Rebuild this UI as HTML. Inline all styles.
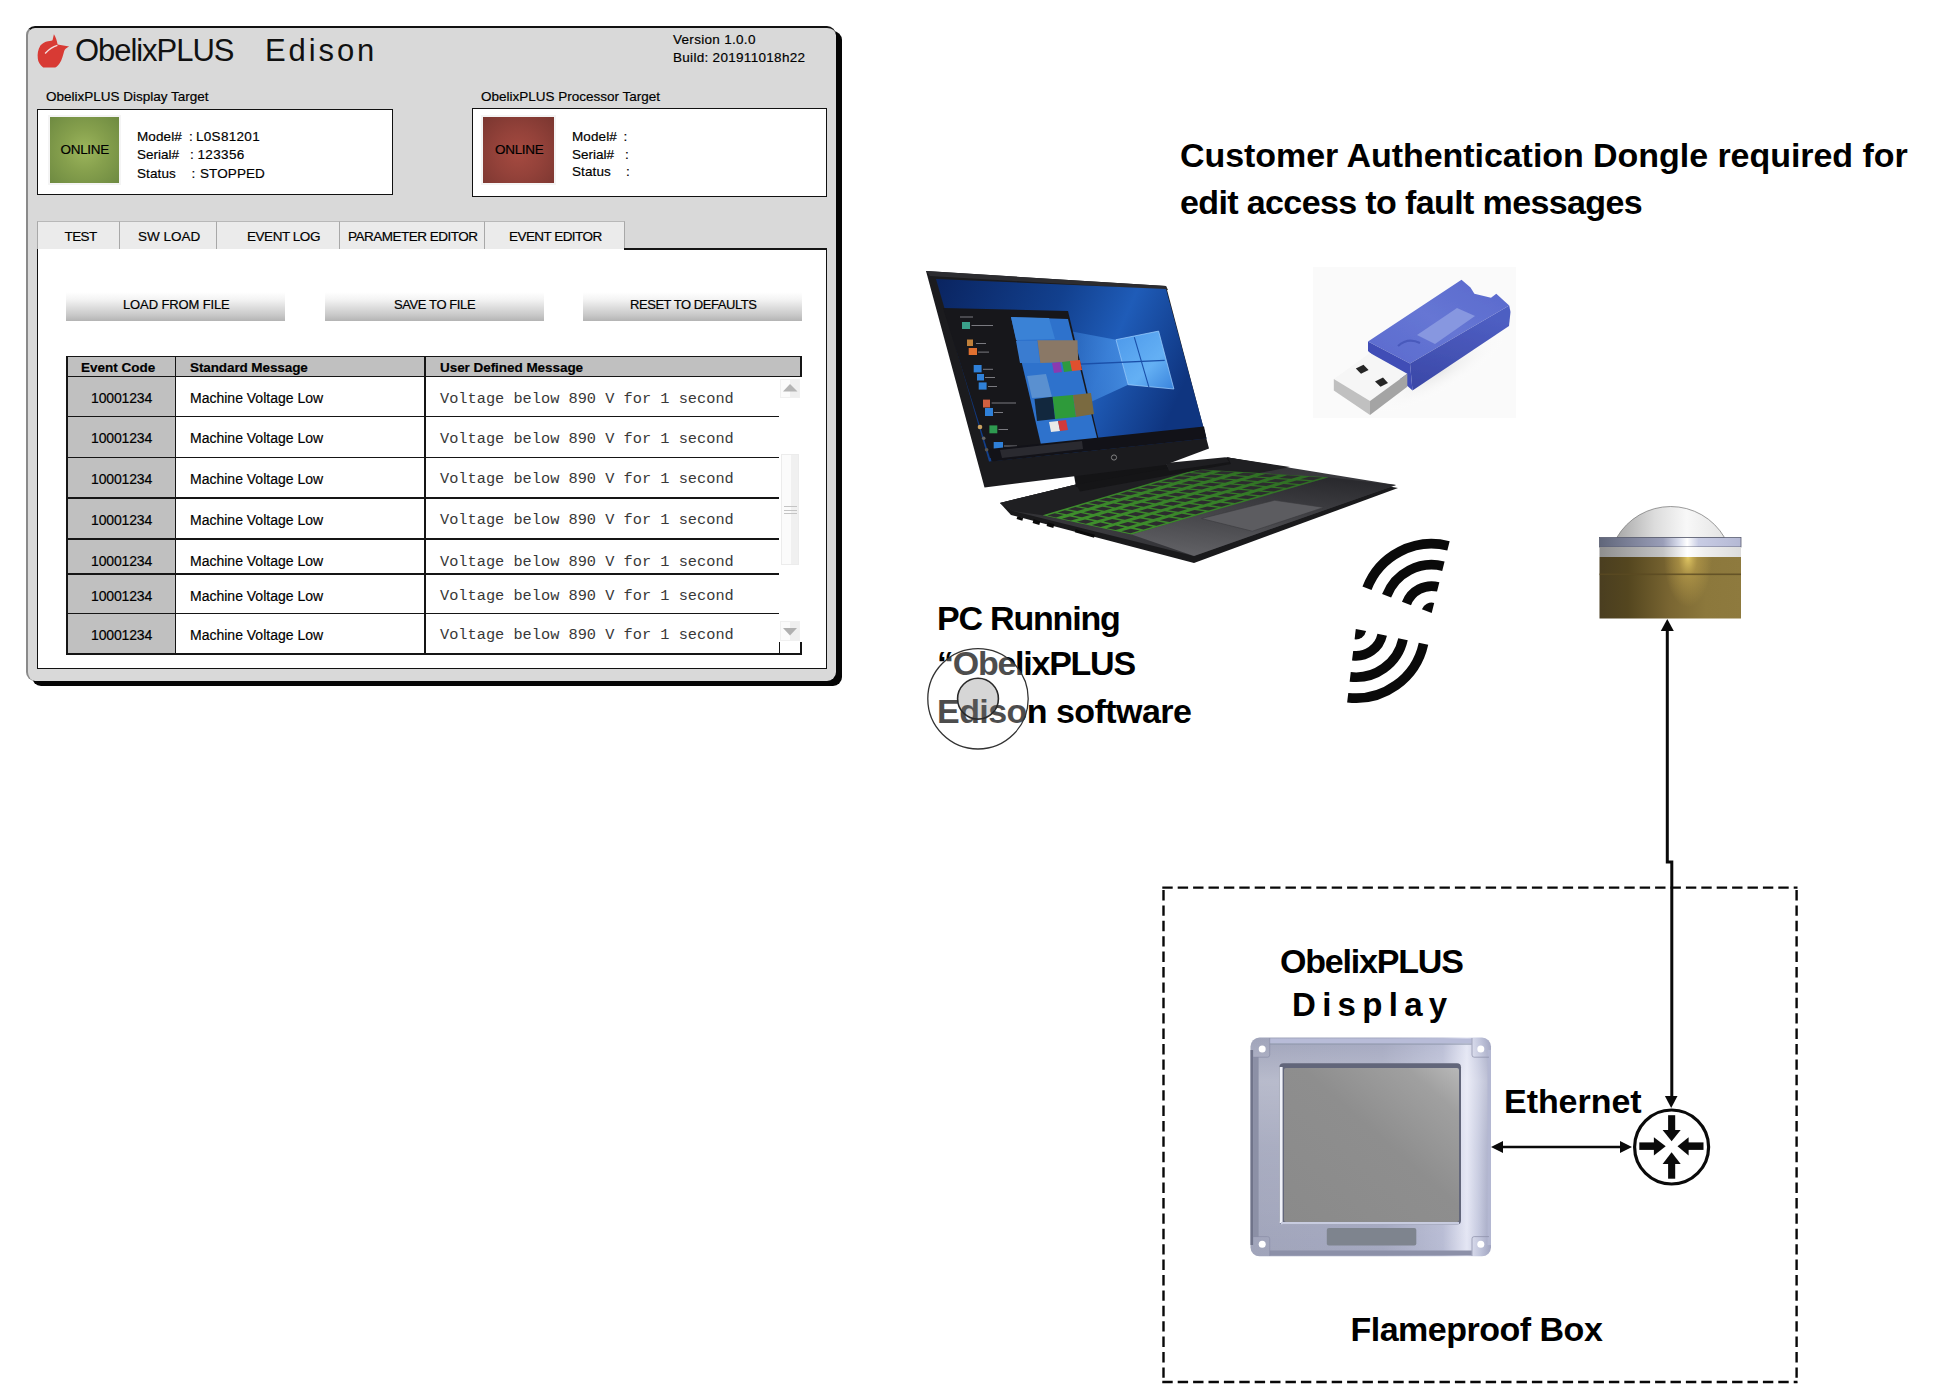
<!DOCTYPE html>
<html><head><meta charset="utf-8">
<style>
html,body{margin:0;padding:0;background:#fff;}
body{width:1952px;height:1396px;position:relative;overflow:hidden;font-family:"Liberation Sans",sans-serif;color:#000;}
.a{position:absolute;}
.t{position:absolute;white-space:pre;line-height:1;}
.w .t{-webkit-text-stroke:0.18px #000;}
.b{font-weight:bold;}
.mono{font-family:"Liberation Mono",monospace;}
.w .t.mono{-webkit-text-stroke:0;}
#win{left:26px;top:26px;width:808px;height:653px;background:#d9d9d9;border-top:2px solid #111;border-left:2px solid #8a8a8a;border-radius:9px;box-shadow:6px 5px 0 0 #050505;}
.box{position:absolute;background:#fff;border:1.5px solid #111;box-sizing:border-box;}
.tab{position:absolute;top:221px;height:28px;background:#ebebeb;border-top:1px solid #b8b8b8;border-left:1px solid #a8a8a8;box-sizing:border-box;}
.btn{position:absolute;top:292px;height:29px;background:linear-gradient(#ffffff 0%,#f4f4f4 25%,#c8c8c8 80%,#b4b4b4 100%);}
.hl{position:absolute;height:1.6px;background:#151515;}
.vl{position:absolute;width:1.6px;background:#151515;}
</style></head><body>

<div class="w">
<!-- ================= WINDOW ================= -->
<div id="win" class="a"></div>

<!-- logo -->
<svg class="a" style="left:0;top:0" width="90" height="90" viewBox="0 0 90 90">
<path d="M53.9 34.3 C55.5 37 57 40 57.6 44.6 L69.1 46.6 C66.5 47.8 65 49 64.2 51 C63 55 62 60 59.5 63.5 C57.5 66 56 67.4 55 67.4 L43.2 67.4 C40 65 38 62 37.8 58.5 C37.3 54 37.8 50 40.4 45.6 C42.5 43 45 41.7 48 41.2 C50.5 40.8 52.5 40.6 52.6 40 Z" fill="#d83a34"/>
<path d="M45.1 53.5 C49 49 53 46.5 57.4 45.3" stroke="#f4dede" stroke-width="1.3" fill="none"/>
</svg>

<div class="t" style="left:75px;top:35px;font-size:31px;letter-spacing:-1.05px;color:#111;-webkit-text-stroke:0;">ObelixPLUS</div>
<div class="t" style="left:265px;top:35px;font-size:31px;letter-spacing:2.9px;color:#111;-webkit-text-stroke:0;">Edison</div>

<div class="t" style="left:673px;top:32.5px;font-size:13.5px;letter-spacing:0.3px;">Version 1.0.0</div>
<div class="t" style="left:673px;top:51px;font-size:13.5px;letter-spacing:0.3px;">Build: 201911018h22</div>

<div class="t" style="left:46px;top:90px;font-size:13.5px;">ObelixPLUS Display Target</div>
<div class="box" style="left:37px;top:109px;width:356px;height:86px;"></div>
<div class="a" style="left:50px;top:117px;width:69px;height:66px;background:radial-gradient(circle at 50% 50%,#9cb55c 0%,#86a04d 45%,#6e8a41 100%);box-shadow:0 0 0 2px #f4f4f4;"></div>
<div class="t" style="left:60.5px;top:142.5px;font-size:13.5px;letter-spacing:-0.3px;">ONLINE</div>
<div class="t" style="left:137px;top:129.5px;font-size:13.5px;letter-spacing:0.1px;">Model#</div>
<div class="t" style="left:189px;top:129.5px;font-size:13.5px;">:</div>
<div class="t" style="left:196px;top:129.5px;font-size:13.5px;letter-spacing:0.3px;">L0S81201</div>
<div class="t" style="left:137px;top:148px;font-size:13.5px;">Serial#</div>
<div class="t" style="left:190px;top:148px;font-size:13.5px;">:</div>
<div class="t" style="left:197.5px;top:148px;font-size:13.5px;letter-spacing:0.35px;">123356</div>
<div class="t" style="left:137px;top:166.5px;font-size:13.5px;letter-spacing:0.1px;">Status</div>
<div class="t" style="left:191.5px;top:166.5px;font-size:13.5px;">:</div>
<div class="t" style="left:200px;top:166.5px;font-size:13.5px;letter-spacing:0.1px;">STOPPED</div>

<div class="t" style="left:481px;top:90px;font-size:13.5px;">ObelixPLUS Processor Target</div>
<div class="box" style="left:472px;top:108px;width:355px;height:89px;"></div>
<div class="a" style="left:483px;top:117px;width:71px;height:66px;background:radial-gradient(circle at 50% 55%,#a54a40 0%,#94423a 45%,#7a3630 100%);box-shadow:0 0 0 2px #f4f4f4;"></div>
<div class="t" style="left:495px;top:143px;font-size:13.5px;letter-spacing:-0.3px;">ONLINE</div>
<div class="t" style="left:572px;top:129.5px;font-size:13.5px;letter-spacing:0.1px;">Model#</div>
<div class="t" style="left:623.5px;top:129.5px;font-size:13.5px;">:</div>
<div class="t" style="left:572px;top:147.5px;font-size:13.5px;">Serial#</div>
<div class="t" style="left:625px;top:147.5px;font-size:13.5px;">:</div>
<div class="t" style="left:572px;top:165px;font-size:13.5px;letter-spacing:0.1px;">Status</div>
<div class="t" style="left:626px;top:165px;font-size:13.5px;">:</div>

<!-- tabs -->
<div class="tab" style="left:37px;width:83px;"></div>
<div class="tab" style="left:119px;width:98px;"></div>
<div class="tab" style="left:216px;width:124px;"></div>
<div class="tab" style="left:339px;width:146px;"></div>
<div class="tab" style="left:484px;width:141px;border-right:1px solid #a8a8a8;"></div>
<div class="t" style="left:64.5px;top:229.5px;font-size:13.5px;letter-spacing:-0.6px;">TEST</div>
<div class="t" style="left:138px;top:229.5px;font-size:13.5px;letter-spacing:0px;">SW LOAD</div>
<div class="t" style="left:247px;top:229.5px;font-size:13.5px;letter-spacing:-0.45px;">EVENT LOG</div>
<div class="t" style="left:348px;top:229.5px;font-size:13.5px;letter-spacing:-0.5px;">PARAMETER EDITOR</div>
<div class="t" style="left:509px;top:229.5px;font-size:13.5px;letter-spacing:-0.55px;">EVENT EDITOR</div>

<!-- content panel -->
<div class="a" style="left:37px;top:249px;width:790px;height:420px;background:#fff;border-left:1.5px solid #111;border-right:1.5px solid #111;border-bottom:1.5px solid #111;box-sizing:border-box;"></div>
<div class="hl" style="left:624px;top:248px;width:203px;height:1.5px;"></div>

<!-- buttons -->
<div class="btn" style="left:66px;width:219px;"></div>
<div class="btn" style="left:325px;width:219px;"></div>
<div class="btn" style="left:583px;width:219px;"></div>
<div class="t" style="left:123px;top:298px;font-size:13px;letter-spacing:-0.12px;">LOAD FROM FILE</div>
<div class="t" style="left:394px;top:298px;font-size:13px;letter-spacing:-0.4px;">SAVE TO FILE</div>
<div class="t" style="left:630px;top:298px;font-size:13px;letter-spacing:-0.45px;">RESET TO DEFAULTS</div>

<!-- table -->
<div class="a" style="left:66px;top:356px;width:736px;height:21px;background:#c0c0c0;"></div>
<div class="a" style="left:66px;top:377px;width:110px;height:278px;background:#c0c0c0;"></div>
<!-- table borders -->
<div class="hl" style="left:66px;top:355.5px;width:736px;"></div>
<div class="hl" style="left:66px;top:375.5px;width:736px;"></div>
<div class="vl" style="left:66px;top:356px;height:299px;"></div>
<div class="vl" style="left:174.5px;top:356px;height:299px;"></div>
<div class="vl" style="left:424px;top:356px;height:299px;"></div>
<div class="vl" style="left:800px;top:356px;height:21px;"></div>
<div class="hl" style="left:66px;top:415.5px;width:713px;"></div>
<div class="hl" style="left:66px;top:456.5px;width:713px;"></div>
<div class="hl" style="left:66px;top:497px;width:713px;"></div>
<div class="hl" style="left:66px;top:538px;width:713px;"></div>
<div class="hl" style="left:66px;top:573px;width:713px;"></div>
<div class="hl" style="left:66px;top:612.5px;width:713px;"></div>
<div class="hl" style="left:66px;top:653px;width:736px;"></div>
<div class="vl" style="left:778.5px;top:642px;height:13px;"></div>
<div class="vl" style="left:800px;top:642px;height:13px;"></div>

<!-- header texts -->
<div class="t b" style="left:81px;top:360.5px;font-size:13.5px;letter-spacing:0px;">Event Code</div>
<div class="t b" style="left:190px;top:360.5px;font-size:13.5px;letter-spacing:-0.1px;">Standard Message</div>
<div class="t b" style="left:440px;top:360.5px;font-size:13.5px;letter-spacing:-0.05px;">User Defined Message</div>

<!-- scrollbar -->
<div class="a" style="left:780px;top:379px;width:20px;height:19px;background:linear-gradient(90deg,#fbfbfb 50%,#efefef 50%);border:1px solid #f0f0f0;box-sizing:border-box;"></div>
<svg class="a" style="left:780px;top:379px" width="20" height="19"><path d="M3 12.5 L10 5 L17.5 12.5 Z" fill="#b4b4b4"/></svg>
<div class="a" style="left:781px;top:454px;width:18px;height:111px;background:linear-gradient(90deg,#fbfbfb 55%,#f0f0f0 55%);border:1px solid #ececec;box-sizing:border-box;"></div>
<div class="a" style="left:784px;top:505.5px;width:13px;height:1px;background:#c4c4c4;"></div>
<div class="a" style="left:784px;top:509.5px;width:13px;height:1px;background:#c4c4c4;"></div>
<div class="a" style="left:784px;top:512.5px;width:13px;height:1px;background:#c4c4c4;"></div>
<div class="a" style="left:780px;top:621px;width:20px;height:20px;background:linear-gradient(90deg,#fbfbfb 50%,#efefef 50%);border:1px solid #f0f0f0;box-sizing:border-box;"></div>
<svg class="a" style="left:780px;top:621px" width="20" height="20"><path d="M3 7 L17 7 L10 14.5 Z" fill="#b0b0b0"/></svg>

<div class="t" style="left:91px;top:391.3px;font-size:14px;letter-spacing:-0.15px;">10001234</div>
<div class="t" style="left:190px;top:391.3px;font-size:14px;">Machine Voltage Low</div>
<div class="t mono" style="left:440px;top:391.6px;font-size:15.3px;color:#383838;">Voltage below 890 V for 1 second</div>
<div class="t" style="left:91px;top:431.2px;font-size:14px;letter-spacing:-0.15px;">10001234</div>
<div class="t" style="left:190px;top:431.2px;font-size:14px;">Machine Voltage Low</div>
<div class="t mono" style="left:440px;top:431.5px;font-size:15.3px;color:#383838;">Voltage below 890 V for 1 second</div>
<div class="t" style="left:91px;top:471.7px;font-size:14px;letter-spacing:-0.15px;">10001234</div>
<div class="t" style="left:190px;top:471.7px;font-size:14px;">Machine Voltage Low</div>
<div class="t mono" style="left:440px;top:472.0px;font-size:15.3px;color:#383838;">Voltage below 890 V for 1 second</div>
<div class="t" style="left:91px;top:513.0px;font-size:14px;letter-spacing:-0.15px;">10001234</div>
<div class="t" style="left:190px;top:513.0px;font-size:14px;">Machine Voltage Low</div>
<div class="t mono" style="left:440px;top:513.3px;font-size:15.3px;color:#383838;">Voltage below 890 V for 1 second</div>
<div class="t" style="left:91px;top:554.2px;font-size:14px;letter-spacing:-0.15px;">10001234</div>
<div class="t" style="left:190px;top:554.2px;font-size:14px;">Machine Voltage Low</div>
<div class="t mono" style="left:440px;top:554.5px;font-size:15.3px;color:#383838;">Voltage below 890 V for 1 second</div>
<div class="t" style="left:91px;top:588.5px;font-size:14px;letter-spacing:-0.15px;">10001234</div>
<div class="t" style="left:190px;top:588.5px;font-size:14px;">Machine Voltage Low</div>
<div class="t mono" style="left:440px;top:588.8px;font-size:15.3px;color:#383838;">Voltage below 890 V for 1 second</div>
<div class="t" style="left:91px;top:628.1px;font-size:14px;letter-spacing:-0.15px;">10001234</div>
<div class="t" style="left:190px;top:628.1px;font-size:14px;">Machine Voltage Low</div>
<div class="t mono" style="left:440px;top:628.4px;font-size:15.3px;color:#383838;">Voltage below 890 V for 1 second</div>



</div>
<!-- ================= RIGHT SIDE ================= -->
<div class="t b" style="left:1180px;top:138.4px;font-size:34px;letter-spacing:-0.05px;">Customer Authentication Dongle required for</div>
<div class="t b" style="left:1180px;top:184.9px;font-size:34px;letter-spacing:-0.62px;">edit access to fault messages</div>

<!-- laptop -->
<svg class="a" style="left:0;top:0" width="1952" height="1396" viewBox="0 0 1952 1396">
<defs>
<linearGradient id="scr" x1="0" y1="0" x2="1" y2="0.3">
<stop offset="0" stop-color="#0a2460"/><stop offset="0.45" stop-color="#12408e"/><stop offset="0.7" stop-color="#1f5cb8"/><stop offset="1" stop-color="#0f3580"/>
</linearGradient>
<linearGradient id="ray1" x1="1" y1="0" x2="0" y2="0">
<stop offset="0" stop-color="#4a94e8" stop-opacity="0.85"/><stop offset="1" stop-color="#2a6cc8" stop-opacity="0"/>
</linearGradient>
<linearGradient id="logo" x1="0" y1="0" x2="1" y2="1">
<stop offset="0" stop-color="#4c98ea"/><stop offset="0.6" stop-color="#64b0f4"/><stop offset="1" stop-color="#3a84dc"/>
</linearGradient>
<linearGradient id="base" x1="0" y1="0" x2="0.4" y2="1">
<stop offset="0" stop-color="#1c1c1f"/><stop offset="0.6" stop-color="#2c2c30"/><stop offset="1" stop-color="#4a4a4e"/>
</linearGradient>
<linearGradient id="deck" x1="0" y1="0" x2="1" y2="1">
<stop offset="0" stop-color="#232326"/><stop offset="0.5" stop-color="#3a3a3e"/><stop offset="1" stop-color="#2a2a2e"/>
</linearGradient>
<linearGradient id="front" x1="0.35" y1="1" x2="0.65" y2="0"><stop offset="0" stop-color="#606064"/><stop offset="0.45" stop-color="#46464a"/><stop offset="1" stop-color="#2a2a2e"/></linearGradient>
<linearGradient id="kbg" x1="0" y1="1" x2="1" y2="0"><stop offset="0" stop-color="#42962e"/><stop offset="0.6" stop-color="#367e28"/><stop offset="1" stop-color="#2c6622"/></linearGradient>
<radialGradient id="rays" cx="0.5" cy="0.5" r="0.5">
<stop offset="0" stop-color="#8cc4ff" stop-opacity="0.9"/><stop offset="0.6" stop-color="#3f8ae6" stop-opacity="0.5"/><stop offset="1" stop-color="#2a6cc8" stop-opacity="0"/>
</radialGradient>
</defs>
<!-- base -->
<polygon points="1000,503 1076,484.5 1228,457.5 1398,488 1194,563 1011,515" fill="#1a1a1c"/>
<polygon points="1000,503 1076,484.5 1228,457.5 1396,485 1194,556 1013,511" fill="url(#deck)"/>
<polygon points="1000,503 1076,484.5 1228,457.5 1290,467 1042.7,515.3 1013,511" fill="#1f1f22"/>
<polygon points="1131.6,534.4 1328.6,477.2 1396,485 1194,556" fill="url(#front)"/>
<!-- keyboard -->
<polygon points="1042.7,515.3 1196.7,469.3 1328.6,477.2 1131.6,534.4" fill="url(#kbg)"/>
<g fill="#2c2c2e">
<polygon points="1047.1,515.5 1054.6,513.3 1063.7,515.1 1056.0,517.4"/>
<polygon points="1062.0,518.7 1069.8,516.4 1078.9,518.2 1070.9,520.6"/>
<polygon points="1076.9,521.8 1085.0,519.4 1094.2,521.3 1085.8,523.7"/>
<polygon points="1091.8,525.0 1100.3,522.5 1109.4,524.4 1100.7,526.9"/>
<polygon points="1106.6,528.2 1115.5,525.6 1124.6,527.4 1115.6,530.1"/>
<polygon points="1121.5,531.3 1130.7,528.7 1139.8,530.5 1130.5,533.2"/>
<polygon points="1057.5,512.4 1064.9,510.2 1074.4,512.0 1066.7,514.2"/>
<polygon points="1072.8,515.5 1080.6,513.1 1090.1,514.9 1082.1,517.3"/>
<polygon points="1088.2,518.5 1096.3,516.1 1105.8,517.9 1097.4,520.3"/>
<polygon points="1103.6,521.5 1112.1,519.0 1121.5,520.8 1112.8,523.4"/>
<polygon points="1118.9,524.6 1127.8,522.0 1137.2,523.8 1128.1,526.4"/>
<polygon points="1134.3,527.6 1143.5,524.9 1152.9,526.7 1143.5,529.4"/>
<polygon points="1067.8,509.3 1075.3,507.1 1085.0,508.8 1077.3,511.1"/>
<polygon points="1083.7,512.2 1091.5,509.9 1101.2,511.6 1093.2,514.0"/>
<polygon points="1099.5,515.2 1107.7,512.7 1117.4,514.4 1109.0,516.9"/>
<polygon points="1115.4,518.1 1123.8,515.6 1133.6,517.3 1124.9,519.8"/>
<polygon points="1131.2,521.0 1140.0,518.4 1149.7,520.1 1140.7,522.7"/>
<polygon points="1147.0,523.9 1156.2,521.2 1165.9,522.9 1156.5,525.7"/>
<polygon points="1078.2,506.2 1085.7,504.0 1095.7,505.6 1088.0,507.9"/>
<polygon points="1094.5,509.0 1102.3,506.7 1112.3,508.3 1104.3,510.7"/>
<polygon points="1110.8,511.8 1119.0,509.4 1129.0,511.0 1120.6,513.5"/>
<polygon points="1127.2,514.6 1135.6,512.1 1145.6,513.7 1136.9,516.3"/>
<polygon points="1143.5,517.4 1152.3,514.8 1162.3,516.4 1153.3,519.1"/>
<polygon points="1159.8,520.2 1169.0,517.5 1179.0,519.1 1169.6,521.9"/>
<polygon points="1088.6,503.1 1096.0,500.9 1106.3,502.5 1098.6,504.7"/>
<polygon points="1105.4,505.8 1113.2,503.5 1123.4,505.0 1115.4,507.4"/>
<polygon points="1122.2,508.5 1130.3,506.1 1140.6,507.6 1132.2,510.1"/>
<polygon points="1138.9,511.1 1147.4,508.6 1157.7,510.2 1149.0,512.7"/>
<polygon points="1155.7,513.8 1164.6,511.2 1174.9,512.8 1165.8,515.4"/>
<polygon points="1172.5,516.5 1181.7,513.8 1192.0,515.4 1182.6,518.1"/>
<polygon points="1098.9,500.0 1106.4,497.8 1117.0,499.3 1109.3,501.6"/>
<polygon points="1116.2,502.6 1124.0,500.3 1134.6,501.7 1126.6,504.1"/>
<polygon points="1133.5,505.1 1141.6,502.7 1152.2,504.2 1143.8,506.7"/>
<polygon points="1150.7,507.7 1159.2,505.2 1169.8,506.7 1161.1,509.2"/>
<polygon points="1168.0,510.2 1176.9,507.6 1187.4,509.1 1178.4,511.7"/>
<polygon points="1185.3,512.8 1194.5,510.1 1205.0,511.6 1195.7,514.3"/>
<polygon points="1109.3,497.0 1116.7,494.7 1127.6,496.1 1119.9,498.4"/>
<polygon points="1127.0,499.4 1134.8,497.1 1145.7,498.5 1137.7,500.8"/>
<polygon points="1144.8,501.8 1152.9,499.4 1163.8,500.8 1155.4,503.2"/>
<polygon points="1162.5,504.2 1171.0,501.7 1181.9,503.1 1173.2,505.7"/>
<polygon points="1180.3,506.6 1189.1,504.0 1200.0,505.4 1190.9,508.1"/>
<polygon points="1198.0,509.1 1207.2,506.4 1218.1,507.8 1208.7,510.5"/>
<polygon points="1119.6,493.9 1127.1,491.6 1138.3,493.0 1130.6,495.2"/>
<polygon points="1137.9,496.2 1145.7,493.8 1156.8,495.2 1148.8,497.5"/>
<polygon points="1156.1,498.5 1164.3,496.0 1175.4,497.4 1167.0,499.8"/>
<polygon points="1174.3,500.7 1182.8,498.3 1194.0,499.6 1185.3,502.1"/>
<polygon points="1192.6,503.0 1201.4,500.5 1212.5,501.8 1203.5,504.4"/>
<polygon points="1210.8,505.3 1220.0,502.7 1231.1,504.0 1221.7,506.7"/>
<polygon points="1130.0,490.8 1137.5,488.5 1148.9,489.8 1141.2,492.1"/>
<polygon points="1148.7,492.9 1156.5,490.6 1168.0,491.9 1159.9,494.2"/>
<polygon points="1167.4,495.1 1175.6,492.7 1187.0,494.0 1178.6,496.4"/>
<polygon points="1186.1,497.3 1194.6,494.8 1206.1,496.0 1197.4,498.6"/>
<polygon points="1204.8,499.5 1213.7,496.9 1225.1,498.1 1216.1,500.8"/>
<polygon points="1223.5,501.6 1232.7,498.9 1244.2,500.2 1234.8,502.9"/>
<polygon points="1140.4,487.7 1147.8,485.5 1159.6,486.6 1151.9,488.9"/>
<polygon points="1159.6,489.7 1167.4,487.4 1179.1,488.6 1171.1,491.0"/>
<polygon points="1178.7,491.8 1186.9,489.4 1198.6,490.5 1190.3,493.0"/>
<polygon points="1197.9,493.8 1206.4,491.3 1218.1,492.5 1209.4,495.0"/>
<polygon points="1217.1,495.9 1225.9,493.3 1237.7,494.5 1228.6,497.1"/>
<polygon points="1236.3,497.9 1245.5,495.2 1257.2,496.4 1247.8,499.1"/>
<polygon points="1150.7,484.6 1158.2,482.4 1170.2,483.5 1162.5,485.7"/>
<polygon points="1170.4,486.5 1178.2,484.2 1190.2,485.3 1182.2,487.7"/>
<polygon points="1190.1,488.4 1198.2,486.0 1210.2,487.1 1201.9,489.6"/>
<polygon points="1209.7,490.4 1218.2,487.9 1230.2,489.0 1221.5,491.5"/>
<polygon points="1229.4,492.3 1238.2,489.7 1250.2,490.8 1241.2,493.4"/>
<polygon points="1249.0,494.2 1258.2,491.5 1270.2,492.6 1260.8,495.3"/>
<polygon points="1161.1,481.5 1168.6,479.3 1180.8,480.3 1173.2,482.6"/>
<polygon points="1181.2,483.3 1189.0,481.0 1201.3,482.0 1193.3,484.4"/>
<polygon points="1201.4,485.1 1209.5,482.7 1221.8,483.7 1213.5,486.2"/>
<polygon points="1221.5,486.9 1230.0,484.4 1242.3,485.4 1233.6,488.0"/>
<polygon points="1241.7,488.7 1250.5,486.1 1262.8,487.1 1253.7,489.8"/>
<polygon points="1261.8,490.5 1271.0,487.8 1283.3,488.8 1273.9,491.6"/>
<polygon points="1171.5,478.4 1178.9,476.2 1191.5,477.1 1183.8,479.4"/>
<polygon points="1192.1,480.1 1199.9,477.8 1212.5,478.7 1204.4,481.1"/>
<polygon points="1212.7,481.8 1220.8,479.3 1233.4,480.3 1225.1,482.8"/>
<polygon points="1233.3,483.4 1241.8,480.9 1254.4,481.9 1245.7,484.4"/>
<polygon points="1253.9,485.1 1262.8,482.5 1275.3,483.5 1266.3,486.1"/>
<polygon points="1274.5,486.8 1283.7,484.1 1296.3,485.0 1286.9,487.8"/>
<polygon points="1181.8,475.3 1189.3,473.1 1202.1,474.0 1194.5,476.2"/>
<polygon points="1202.9,476.9 1210.7,474.5 1223.6,475.4 1215.6,477.8"/>
<polygon points="1224.0,478.4 1232.2,476.0 1245.0,476.9 1236.7,479.3"/>
<polygon points="1245.1,480.0 1253.6,477.5 1266.5,478.3 1257.8,480.9"/>
<polygon points="1266.2,481.5 1275.0,478.9 1287.9,479.8 1278.9,482.4"/>
<polygon points="1287.3,483.1 1296.5,480.4 1309.3,481.3 1300.0,484.0"/>
<polygon points="1192.2,472.2 1199.6,470.0 1212.8,470.8 1205.1,473.1"/>
<polygon points="1213.8,473.6 1221.6,471.3 1234.7,472.1 1226.7,474.5"/>
<polygon points="1235.3,475.1 1243.5,472.7 1256.6,473.5 1248.3,475.9"/>
<polygon points="1256.9,476.5 1265.4,474.0 1278.5,474.8 1269.8,477.3"/>
<polygon points="1278.5,477.9 1287.3,475.3 1300.5,476.1 1291.4,478.8"/>
<polygon points="1300.0,479.3 1309.2,476.7 1322.4,477.5 1313.0,480.2"/>
</g>
<!-- touchpad -->
<polygon points="1201.5,518.5 1274.6,500.3 1323.8,507.4 1252.3,531.2" fill="#5c5c60" stroke="#3a3a3e" stroke-width="0.6"/>
<!-- ports -->
<rect x="1017" y="517" width="6" height="3" fill="#0a0a0a" transform="rotate(16 1020 518)"/>
<rect x="1033" y="520" width="7" height="4" fill="#0a0a0a" transform="rotate(16 1036 522)"/>
<rect x="1047" y="523" width="7" height="4" fill="#0a0a0a" transform="rotate(16 1050 525)"/>
<rect x="1075" y="532" width="20" height="3" fill="#0a0a0a" transform="rotate(16 1085 533)"/>
<!-- hinge -->
<polygon points="1074,475 1166,463 1170,470 1076,487" fill="#141416"/>
<polygon points="1076,484.5 1228,457.5 1231,464 1080,491.5" fill="#151517"/>
<polygon points="1166,463 1225.5,457.3 1229.4,462 1169,471" fill="#1e1e21"/>
<!-- lid -->
<polygon points="926,271 1166,286 1209,448.5 1165,465 984.5,487.5" fill="#1b1b1e"/>
<polygon points="926,271 1166,286 1168,290 930,276" fill="#2c2c30"/>
<!-- screen -->
<polygon points="936,279 1166,289 1206.5,438.5 989,461.5" fill="url(#scr)"/>
<polygon points="1000,318 1116,339.7 1128.2,384.7 1030,430" fill="url(#ray1)"/>
<polygon points="1116,339.7 1158.6,331.1 1173.9,389 1128.2,384.7" fill="url(#logo)"/>
<path d="M1116 339.7 L1158.6 331.1 L1173.9 389 L1128.2 384.7 Z" stroke="#9fd0ff" stroke-width="0.9" fill="none" opacity="0.8"/>
<path d="M1134.3 337.2 L1148.9 387.2" stroke="#1a4fa8" stroke-width="1.1"/>
<path d="M1060 365 L1164.7 360.4" stroke="#1a4fa8" stroke-width="1.3"/>
<!-- start menu -->
<polygon points="943,308 1068,311 1100,445 990,458" fill="#17171b"/>
<polygon points="1011,317 1068,319 1099,446 1042,449" fill="#2e72cc"/>
<polygon points="1011,317 1049,318 1055,339 1016,340" fill="#3a82d6"/>
<polygon points="1037.4,340.2 1077.5,340.2 1078.2,361.7 1040.3,363.1" fill="#8a7866"/>
<polygon points="1016,341 1037,341 1040,363 1020,363" fill="#3a7cd0"/>
<polygon points="1052,363 1060,362 1062,372 1054,373" fill="#8a3ab0"/>
<polygon points="1062,362 1070,361 1072,371 1064,372" fill="#2e9a40"/>
<polygon points="1070,361 1080,360 1082,370 1072,371" fill="#e0502e"/>
<polygon points="1027,376 1046,374 1052,397 1032,398" fill="#5a90d0"/>
<polygon points="1052.5,396.7 1073,395 1076,417 1055,419" fill="#2e9a3a"/>
<polygon points="1073,395 1091,393 1094,414 1076,417" fill="#7a6a40"/>
<polygon points="1034.5,399 1052.5,396.7 1055,419 1037,421" fill="#12283e"/>
<polygon points="1049,422 1058,421 1060,431 1051,432" fill="#e8e8e8"/>
<polygon points="1058,421 1066,420 1068,430 1060,431" fill="#d03a3a"/>
<g>
<rect x="962" y="322" width="8.0" height="7.0" fill="#3aa08a"/><rect x="971.5" y="325" width="21.5" height="1" fill="#7a7a80"/>
<rect x="967" y="339.5" width="6.0" height="6.5" fill="#c0803a"/><rect x="976" y="343" width="10.0" height="1" fill="#7a7a80"/>
<rect x="968.7" y="348" width="8.3" height="7.0" fill="#e07030"/><rect x="978" y="351.6" width="11.0" height="1" fill="#7a7a80"/>
<rect x="973.7" y="365" width="7.9" height="7.4" fill="#2f80d8"/><rect x="983" y="368.8" width="10.0" height="1" fill="#7a7a80"/>
<rect x="977" y="374" width="7.0" height="6.5" fill="#2f80d8"/><rect x="985" y="377" width="10.0" height="1" fill="#7a7a80"/>
<rect x="978.7" y="382.4" width="7.9" height="7.2" fill="#2f80d8"/><rect x="988" y="386" width="9.0" height="1" fill="#7a7a80"/>
<rect x="983" y="399.6" width="7.0" height="7.9" fill="#d06040"/><rect x="991.6" y="402.5" width="24.4" height="1" fill="#7a7a80"/>
<rect x="985" y="408" width="8.0" height="8.0" fill="#2f80d8"/><rect x="994" y="412" width="9.0" height="1" fill="#7a7a80"/>
<rect x="989.4" y="425.4" width="7.9" height="7.9" fill="#2e9a50"/><rect x="998.5" y="429" width="9.5" height="1" fill="#7a7a80"/>
<rect x="993.7" y="442" width="9.3" height="7.7" fill="#2f80d8"/><rect x="1004" y="445.5" width="13.0" height="1" fill="#7a7a80"/>
<rect x="960" y="316.5" width="13" height="1" fill="#7a7a80"/>
<circle cx="980" cy="427" r="2.3" fill="#c8a060"/><circle cx="983.7" cy="438.3" r="1.8" fill="#666"/><circle cx="986.6" cy="449.7" r="1.8" fill="#555"/>
</g>
<!-- taskbar -->
<polygon points="989,449 1204,426.5 1206.5,438.5 991.5,461.5" fill="#121218"/>
<polygon points="1000,450 1082,441 1083,449 1002,458" fill="#2a2a30"/>
<circle cx="1114" cy="457.5" r="2.6" fill="none" stroke="#8a8a8a" stroke-width="0.9"/>
</svg>

<!-- dongle -->
<svg class="a" style="left:0;top:0" width="1952" height="1396" viewBox="0 0 1952 1396">
<defs>
<linearGradient id="dtop" x1="0" y1="1" x2="1" y2="0">
<stop offset="0" stop-color="#5a6ace"/><stop offset="0.5" stop-color="#6676d4"/><stop offset="1" stop-color="#5868cc"/>
</linearGradient>
<linearGradient id="dside" x1="0" y1="1" x2="0.3" y2="0">
<stop offset="0" stop-color="#3a47a6"/><stop offset="1" stop-color="#4e5ec2"/>
</linearGradient>
<radialGradient id="dsh" cx="0.5" cy="0.5" r="0.5">
<stop offset="0" stop-color="#e8e8e8"/><stop offset="1" stop-color="#ffffff" stop-opacity="0"/>
</radialGradient>
<filter id="blur1"><feGaussianBlur stdDeviation="0.6"/></filter>
</defs>
<rect x="1313" y="267" width="203" height="151" fill="#fafafa"/>
<ellipse cx="1440" cy="372" rx="80" ry="20" fill="url(#dsh)" transform="rotate(-30 1440 372)"/>
<g filter="url(#blur1)">
<polygon points="1368,341.5 1461.5,279.7 1470.5,287.4 1474.4,293.8 1491,297.7 1496.3,293.8 1509.2,305.4 1410,363.5" fill="url(#dtop)"/>
<polygon points="1410,363.5 1509.2,305.4 1510.5,312 1509,326 1412.5,390.5" fill="url(#dside)"/>
<polygon points="1368,341.5 1410,363.5 1412.5,390.5 1368,351" fill="#3f4eb6"/>
<polygon points="1417,335 1457,308 1475,316 1435,344" fill="#8797e0"/>
<path d="M1398 346 Q1408 337 1420 343" stroke="#4a5abc" stroke-width="2.2" fill="none"/>
<!-- connector -->
<polygon points="1333.8,379 1370,353 1407.3,373.8 1370,400.9" fill="#f6f6f6"/>
<polygon points="1333.8,379 1370,400.9 1370,415 1333.8,390.5" fill="#c0c0c0"/>
<polygon points="1370,400.9 1407.3,373.8 1407.3,386.7 1370,415" fill="#a4a4a4"/>
<polygon points="1355.8,368.5 1363.5,364.8 1368.6,370 1361,373.8" fill="#262626"/>
<polygon points="1375,381.5 1383,377.6 1388,383 1380.5,386.7" fill="#262626"/>
</g>
</svg>

<!-- wifi -->
<svg class="a" style="left:0;top:0" width="1952" height="1396" viewBox="0 0 1952 1396">
<path d="M1367.0 588.3 A69.3 69.3 0 0 1 1448.5 545.9" stroke="#0a0a0a" stroke-width="9.7" fill="none"/>
<path d="M1386.6 595.8 A48.3 48.3 0 0 1 1443.4 566.2" stroke="#0a0a0a" stroke-width="9.7" fill="none"/>
<path d="M1406.5 603.4 A27.0 27.0 0 0 1 1438.2 586.9" stroke="#0a0a0a" stroke-width="9.7" fill="none"/>
<path d="M1431.7 613.1 L1421.9 609.3 A10.5 10.5 0 0 1 1434.2 602.9 Z" fill="#0a0a0a"/>
<path d="M1423.5 643.7 A69.3 69.3 0 0 1 1347.7 697.7" stroke="#0a0a0a" stroke-width="9.7" fill="none"/>
<path d="M1403.0 639.2 A48.3 48.3 0 0 1 1350.2 676.9" stroke="#0a0a0a" stroke-width="9.7" fill="none"/>
<path d="M1382.2 634.7 A27.0 27.0 0 0 1 1352.6 655.7" stroke="#0a0a0a" stroke-width="9.7" fill="none"/>
<path d="M1355.8 628.9 L1366.1 631.1 A10.5 10.5 0 0 1 1354.6 639.3 Z" fill="#0a0a0a"/>
</svg>

<!-- PC label -->
<div class="t b" style="left:937px;top:600.8px;font-size:34px;letter-spacing:-1.2px;">PC Running</div>
<div class="t b" style="left:937px;top:646.3px;font-size:34px;letter-spacing:-1.25px;">“ObelixPLUS</div>
<div class="t b" style="left:937px;top:694px;font-size:34px;letter-spacing:-0.55px;">Edison software</div>

<!-- cursor -->
<svg class="a" style="left:0;top:0" width="1952" height="1396" viewBox="0 0 1952 1396">
<circle cx="978" cy="698.8" r="50.2" fill="rgba(255,255,255,0.3)" stroke="#333" stroke-width="1.3"/>
<circle cx="978" cy="698.7" r="20.4" fill="rgba(106,106,106,0.275)" stroke="#2a2a2a" stroke-width="1.6"/>
</svg>

<!-- beacon -->
<svg class="a" style="left:0;top:0" width="1952" height="1396" viewBox="0 0 1952 1396">
<defs>
<linearGradient id="dome" x1="0" y1="0" x2="1" y2="0">
<stop offset="0" stop-color="#a8a8a8"/><stop offset="0.35" stop-color="#dcdcdc"/><stop offset="0.65" stop-color="#f8f8f8"/><stop offset="1" stop-color="#e4e4e4"/>
</linearGradient>
<linearGradient id="band" x1="0" y1="0" x2="1" y2="0">
<stop offset="0" stop-color="#60667a"/><stop offset="0.45" stop-color="#9a9eb8"/><stop offset="0.56" stop-color="#d8dcec"/><stop offset="0.62" stop-color="#ffffff"/><stop offset="0.7" stop-color="#c8cce4"/><stop offset="1" stop-color="#b4b8d4"/>
</linearGradient>
<linearGradient id="band2" x1="0" y1="0" x2="1" y2="0">
<stop offset="0" stop-color="#8e8e8e"/><stop offset="0.45" stop-color="#c4c4c4"/><stop offset="0.62" stop-color="#ffffff"/><stop offset="0.75" stop-color="#eeeeee"/><stop offset="1" stop-color="#dcdcdc"/>
</linearGradient>
<linearGradient id="gold" x1="0" y1="0" x2="1" y2="0">
<stop offset="0" stop-color="#4a3e20"/><stop offset="0.2" stop-color="#54461f"/><stop offset="0.5" stop-color="#7a6632"/><stop offset="0.75" stop-color="#8c783c"/><stop offset="1" stop-color="#8e7a3e"/>
</linearGradient>
<linearGradient id="goldv" x1="0" y1="0" x2="1" y2="0"><stop offset="0" stop-color="#c8a850" stop-opacity="0"/><stop offset="0.55" stop-color="#c8a850" stop-opacity="0.35"/><stop offset="1" stop-color="#c8a850" stop-opacity="0"/></linearGradient>
<clipPath id="goldclip"><rect x="1599.5" y="557" width="141.5" height="61.5"/></clipPath>
<radialGradient id="goldhl" cx="0.5" cy="0.5" r="0.5">
<stop offset="0" stop-color="#e6cc66" stop-opacity="0.95"/><stop offset="0.4" stop-color="#c8aa50" stop-opacity="0.5"/><stop offset="1" stop-color="#c8aa50" stop-opacity="0"/>
</radialGradient>
</defs>
<path d="M1616.8 537.5 A62.3 62.3 0 0 1 1724.5 537.5 Z" fill="url(#dome)" stroke="#707070" stroke-width="0.7"/>
<rect x="1599.5" y="537.5" width="141.5" height="9.5" fill="url(#band)" stroke="#5a5e70" stroke-width="0.8"/>
<rect x="1599.5" y="547" width="141.5" height="10" fill="url(#band2)"/>
<rect x="1599.5" y="557" width="141.5" height="61.5" fill="url(#gold)"/>
<g clip-path="url(#goldclip)"><ellipse cx="1688" cy="557" rx="24" ry="50" fill="url(#goldhl)"/></g>
<rect x="1599.5" y="573.5" width="141.5" height="1.6" fill="#5a4a22" opacity="0.8"/>
<!-- arrow from box to beacon -->
<path d="M1667.3 630 L1667.3 862 L1671.8 862 L1671.8 1097" stroke="#0a0a0a" stroke-width="3" fill="none"/>
<path d="M1667.3 619 L1660.8 631 L1673.8 631 Z" fill="#0a0a0a"/>
<path d="M1671.2 1108 L1664.9 1096 L1677.5 1096 Z" fill="#0a0a0a"/>
<!-- dashed box -->
<g stroke="#080808" stroke-width="2.4" stroke-dasharray="10.4,5" fill="none">
<path d="M1162.3 887.6 L1797.5 887.6"/>
<path d="M1163.5 890 L1163.5 1383"/>
<path d="M1162.3 1382 L1797.5 1382"/>
<path d="M1796.6 890 L1796.6 1383"/>
</g>
<!-- router -->
<circle cx="1671.6" cy="1147" r="37" fill="#fff" stroke="#0a0a0a" stroke-width="3.2"/>
<g fill="#0a0a0a">
<rect x="1668.1" y="1115.2" width="7.1" height="16"/><path d="M1662.6 1130 L1680.7 1130 L1671.6 1141.2 Z"/>
<rect x="1668.1" y="1163" width="7.1" height="15.7"/><path d="M1662.6 1164 L1680.7 1164 L1671.6 1152.3 Z"/>
<rect x="1639.3" y="1142.4" width="15.5" height="7.5"/><path d="M1653.9 1137.3 L1653.9 1155.4 L1665.7 1146.2 Z"/>
<rect x="1688" y="1142.4" width="15.5" height="7.5"/><path d="M1688.6 1137.3 L1688.6 1155.4 L1677.5 1146.2 Z"/>
</g>
<!-- ethernet arrow -->
<path d="M1500 1147 L1622 1147" stroke="#0a0a0a" stroke-width="2.4"/>
<path d="M1491 1147 L1503 1141 L1503 1153 Z" fill="#0a0a0a"/>
<path d="M1632 1147 L1620 1141 L1620 1153 Z" fill="#0a0a0a"/>
</svg>

<!-- display device -->
<svg class="a" style="left:0;top:0" width="1952" height="1396" viewBox="0 0 1952 1396">
<defs>
<linearGradient id="frame" x1="0" y1="0" x2="1" y2="0">
<stop offset="0" stop-color="#a0a4ba"/><stop offset="0.55" stop-color="#a4a8c0"/><stop offset="0.8" stop-color="#b8bcd4"/><stop offset="0.9" stop-color="#e4e6f4"/><stop offset="0.95" stop-color="#c4c8de"/><stop offset="1" stop-color="#a0a4c0"/>
</linearGradient>
<linearGradient id="framev" x1="0" y1="0" x2="0" y2="1">
<stop offset="0" stop-color="#ffffff" stop-opacity="0"/><stop offset="0.2" stop-color="#ffffff" stop-opacity="0.25"/><stop offset="0.5" stop-color="#ffffff" stop-opacity="0.1"/><stop offset="1" stop-color="#ffffff" stop-opacity="0"/>
</linearGradient>
<linearGradient id="lcd" x1="0" y1="1" x2="1" y2="0">
<stop offset="0" stop-color="#8a8a8a"/><stop offset="0.55" stop-color="#8e8e8e"/><stop offset="0.85" stop-color="#a0a0a0"/><stop offset="1" stop-color="#b8b8b8"/>
</linearGradient>
</defs>
<rect x="1250.5" y="1037.5" width="240.5" height="218.8" rx="9" fill="url(#frame)"/>
<rect x="1250.5" y="1037.5" width="240.5" height="218.8" rx="9" fill="url(#framev)"/>
<rect x="1250.5" y="1050" width="2.6" height="195" fill="#70748a"/>
<rect x="1253.1" y="1057" width="5.5" height="180" fill="#8c90a6"/>
<rect x="1487.5" y="1050" width="3.5" height="195" fill="#b4b8d2"/>
<rect x="1269.7" y="1038.5" width="202" height="5" fill="#b8bcd8"/>
<rect x="1269.7" y="1043.6" width="202" height="1" fill="#9098ac"/>
<rect x="1269.7" y="1250.5" width="202" height="5" fill="#8c90a8"/>
<g fill="none" stroke="#8a8ea6" stroke-width="0.7">
<path d="M1252.9 1057.2 L1267.5 1057.2 Q1269.7 1057.2 1269.7 1055 L1269.7 1038"/>
<path d="M1489 1057.2 L1474.2 1057.2 Q1472 1057.2 1472 1055 L1472 1038"/>
<path d="M1252.9 1236.6 L1267.5 1236.6 Q1269.7 1236.6 1269.7 1238.8 L1269.7 1256"/>
<path d="M1489 1236.6 L1474.2 1236.6 Q1472 1236.6 1472 1238.8 L1472 1256"/>
</g>
<rect x="1279.4" y="1063.3" width="181.6" height="161.2" rx="4" fill="#62667a"/>
<rect x="1284" y="1068" width="175" height="154" rx="2" fill="url(#lcd)"/>
<rect x="1279.6" y="1067" width="3" height="156" fill="#f0f2fa"/>
<rect x="1281" y="1222" width="178" height="2.5" fill="#c8cce0"/>
<rect x="1326.8" y="1227.9" width="89.5" height="17.6" rx="2" fill="#7e848e"/>
<g fill="#fff">
<circle cx="1262.2" cy="1049" r="3.5"/><circle cx="1480.8" cy="1049" r="3.5"/><circle cx="1262.2" cy="1244.3" r="3.5"/><circle cx="1480.8" cy="1244.3" r="3.5"/>
</g>
</svg>

<div class="t b" style="left:1280px;top:943.6px;font-size:34px;letter-spacing:-1.2px;">ObelixPLUS</div>
<div class="t b" style="left:1292px;top:988.1px;font-size:33px;letter-spacing:6.3px;">Display</div>
<div class="t b" style="left:1504px;top:1084.1px;font-size:34px;letter-spacing:-0.05px;">Ethernet</div>
<div class="t b" style="left:1350.5px;top:1312.1px;font-size:34px;letter-spacing:-0.5px;">Flameproof Box</div>

</body></html>
